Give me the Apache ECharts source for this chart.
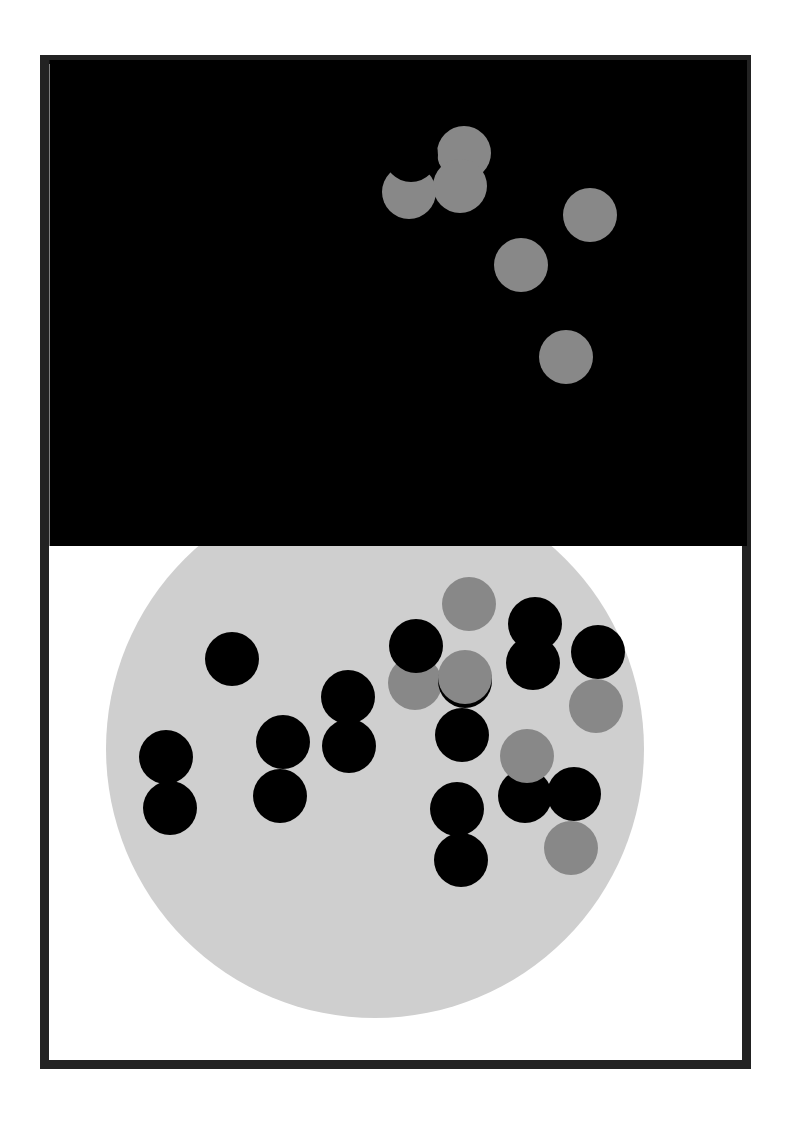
<!DOCTYPE html>
<html>
<head>
<meta charset="utf-8">
<style>
  html, body { margin: 0; padding: 0; background: #ffffff; }
  #chart { width: 794px; height: 1123px; }
</style>
<script src="https://cdn.jsdelivr.net/npm/echarts@6/dist/echarts.min.js"></script>
</head>
<body>
<div id="chart"></div>
<script>
// ---- data (drawing order matters: later points sit on top) ----
const pointX     = [464, 460, 409, 411, 590, 521, 566, 415, 416, 465, 465, 525, 527, 469, 535, 533, 598, 596, 462, 457, 461, 574, 571, 232, 166, 170, 283, 280, 348, 349];
const pointY     = [153, 186, 192, 155, 215, 265, 357, 683, 646, 681, 677, 796, 756, 604, 624, 663, 652, 706, 735, 809, 860, 794, 848, 659, 757, 808, 742, 796, 697, 746];
const pointGroup = ['B','B','B','A','B','B','B','B','A','A','B','A','B','B','A','A','A','B','A','A','A','A','B','A','A','A','A','A','A','A'];

const discCenter = [375, 749];
const discRadius = [269];

const panelBox = [49.5, 60, 747, 546];      // x0, y0, x1, y1
const frameBox = [44.5, 59.5, 746.5, 1064.5];

const groupColor = { A: '#000000', B: '#888888' };

const chart = echarts.init(document.getElementById('chart'), null, { renderer: 'canvas' });

const points = pointX.map((x, i) => ({
  value: [x, pointY[i]],
  itemStyle: { color: groupColor[pointGroup[i]] }
}));

const option = {
  animation: false,
  backgroundColor: '#ffffff',
  grid: { left: 0, top: 0, width: 794, height: 1123, containLabel: false },
  xAxis: { type: 'value', min: 0, max: 794, show: false },
  yAxis: { type: 'value', min: 0, max: 1123, inverse: true, show: false },
  series: [
    {
      type: 'custom',
      z: 1,
      silent: true,
      data: [frameBox],
      renderItem: function (params, api) {
        const p0 = api.coord([api.value(0), api.value(1)]);
        const p1 = api.coord([api.value(2), api.value(3)]);
        return {
          type: 'rect',
          shape: { x: p0[0], y: p0[1], width: p1[0] - p0[0], height: p1[1] - p0[1] },
          style: { fill: 'none', stroke: '#222222', lineWidth: 9 }
        };
      }
    },
    {
      type: 'custom',
      z: 2,
      silent: true,
      data: [[discCenter[0], discCenter[1], discRadius[0]]],
      renderItem: function (params, api) {
        const c = api.coord([api.value(0), api.value(1)]);
        const e = api.coord([api.value(0) + api.value(2), api.value(1)]);
        return {
          type: 'circle',
          shape: { cx: c[0], cy: c[1], r: e[0] - c[0] },
          style: { fill: '#cfcfcf' }
        };
      }
    },
    {
      type: 'custom',
      z: 3,
      silent: true,
      data: [panelBox],
      renderItem: function (params, api) {
        const p0 = api.coord([api.value(0), api.value(1)]);
        const p1 = api.coord([api.value(2), api.value(3)]);
        return {
          type: 'rect',
          shape: { x: p0[0], y: p0[1], width: p1[0] - p0[0], height: p1[1] - p0[1] },
          style: { fill: '#000000' }
        };
      }
    },
    {
      type: 'scatter',
      z: 4,
      symbol: 'circle',
      symbolSize: 54,
      silent: true,
      itemStyle: { opacity: 1, borderWidth: 0 },
      data: points
    }
  ]
};

chart.setOption(option);
</script>
</body>
</html>
